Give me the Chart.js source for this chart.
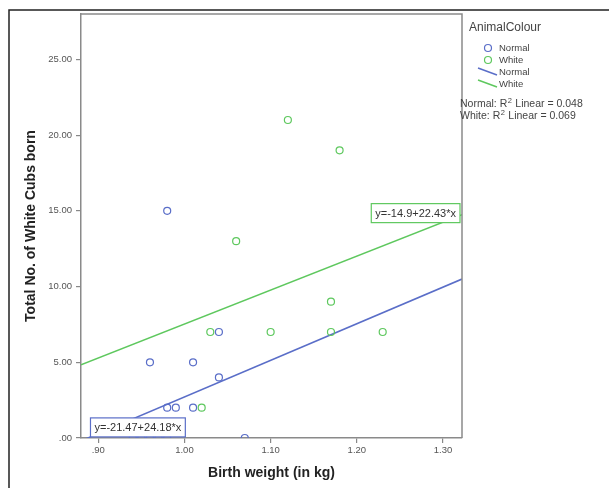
<!DOCTYPE html>
<html>
<head>
<meta charset="utf-8">
<script src="https://cdn.jsdelivr.net/npm/chart.js@4.4.0/dist/chart.umd.min.js"></script>
<style>
  html, body { margin: 0; padding: 0; background: #fff; }
</style>
</head>
<body>
<canvas id="cubsChart" width="609" height="488"></canvas>
<script>
// birth weight (kg) vs white cubs born, per animal colour
const normalWeight = [0.98, 0.96, 1.01, 1.04, 1.04, 0.98, 0.99, 1.01, 1.07, 0.94, 0.95, 0.96, 0.97, 0.98];
const normalCubs   = [15, 5, 5, 7, 4, 2, 2, 2, 0, 0, 0, 0, 0, 0];
const whiteWeight  = [1.12, 1.18, 1.06, 1.17, 1.03, 1.10, 1.17, 1.23, 1.02];
const whiteCubs    = [21, 19, 13, 9, 7, 7, 7, 7, 2];

// fit lines: [intercept, slope]
const normalFit = [-21.47, 24.18];
const whiteFit  = [-14.9, 22.43];
const r2Labels  = ['Normal: R', 'White: R'];
const r2Values  = ['0.048', '0.069'];

const xRange = [0.88, 1.322];
const yRange = [0, 28];
const xTicks = [0.9, 1.0, 1.1, 1.2, 1.3];
const yTicks = [0, 5, 10, 15, 20, 25];

const BLUE = '#5a6ec8';
const GREEN = '#5ec85e';
const FONT = 'Arial, "Liberation Sans", sans-serif';

const toPoints = (xs, ys) => xs.map((x, i) => ({ x: x, y: ys[i] }));
const fitLine = fit => xRange.map(x => ({ x: x, y: fit[0] + fit[1] * x }));
const fmt = v => {
  const s = v.toFixed(2);
  return s.startsWith('0') ? s.slice(1) : s;
};

// frame, box edges, equation boxes and legend
const decorations = {
  id: 'decorations',
  beforeDraw(chart) {
    const c = chart.ctx;
    c.save();
    c.strokeStyle = '#222';
    c.lineWidth = 1.5;
    c.beginPath();
    c.moveTo(9, chart.height);
    c.lineTo(9, 10);
    c.lineTo(chart.width, 10);
    c.stroke();
    c.restore();
  },
  afterDraw(chart) {
    const c = chart.ctx;
    const { left, right, top, bottom } = chart.chartArea;
    const xs = chart.scales.x, ys = chart.scales.y;
    c.save();
    c.strokeStyle = '#8a8a8a';
    c.lineWidth = 1.5;
    c.beginPath();
    c.moveTo(left, top);
    c.lineTo(right, top);
    c.lineTo(right, bottom);
    c.stroke();

    // equation labels
    c.font = '11px ' + FONT;
    c.textBaseline = 'middle';
    const eqBox = (text, color, x0, yc, alignRight) => {
      const w = c.measureText(text).width + 8;
      const bx = alignRight ? x0 - w : x0;
      c.fillStyle = '#fff';
      c.fillRect(bx, yc - 9.5, w, 19);
      c.strokeStyle = color;
      c.lineWidth = 1.2;
      c.strokeRect(bx, yc - 9.5, w, 19);
      c.fillStyle = '#333';
      c.textAlign = 'left';
      c.fillText(text, bx + 4, yc + 0.5);
    };
    eqBox('y=' + whiteFit[0] + '+' + whiteFit[1] + '*x', GREEN, right - 2, ys.getPixelForValue(14.85), true);
    eqBox('y=' + normalFit[0] + '+' + normalFit[1] + '*x', BLUE, xs.getPixelForValue(0.891), ys.getPixelForValue(0.7), false);

    // legend
    const lx = right;
    c.fillStyle = '#444';
    c.textAlign = 'left';
    c.font = '12px ' + FONT;
    c.fillText('AnimalColour', lx + 7, 28);
    c.font = '9.5px ' + FONT;
    c.lineWidth = 1.2;
    [[BLUE, 'Normal', 48], [GREEN, 'White', 60]].forEach(([col, lab, y]) => {
      c.strokeStyle = col;
      c.beginPath();
      c.arc(lx + 26, y, 3.5, 0, Math.PI * 2);
      c.stroke();
      c.fillStyle = '#444';
      c.fillText(lab, lx + 37, y + 0.5);
    });
    c.lineWidth = 1.5;
    [[BLUE, 'Normal', 72], [GREEN, 'White', 84]].forEach(([col, lab, y]) => {
      c.strokeStyle = col;
      c.beginPath();
      c.moveTo(lx + 16, y - 4);
      c.lineTo(lx + 35, y + 3);
      c.stroke();
      c.fillStyle = '#444';
      c.fillText(lab, lx + 37, y);
    });
    [104, 116].forEach((y, i) => {
      let x = lx - 2;
      c.font = '10.5px ' + FONT;
      c.fillText(r2Labels[i], x, y);
      x += c.measureText(r2Labels[i]).width;
      c.font = '7.5px ' + FONT;
      c.fillText('2', x + 0.5, y - 3);
      x += c.measureText('2').width + 1;
      c.font = '10.5px ' + FONT;
      c.fillText(' Linear = ' + r2Values[i], x, y);
    });
    c.restore();
  }
};

const ctx = document.getElementById('cubsChart').getContext('2d');
const cubsChart = new Chart(ctx, {
  type: 'scatter',
  data: {
    datasets: [
      {
        label: 'Normal',
        data: toPoints(normalWeight, normalCubs),
        borderColor: BLUE,
        backgroundColor: 'rgba(0,0,0,0)',
        pointRadius: 3.5,
        pointBorderWidth: 1.2,
        clip: 0
      },
      {
        label: 'White',
        data: toPoints(whiteWeight, whiteCubs),
        borderColor: GREEN,
        backgroundColor: 'rgba(0,0,0,0)',
        pointRadius: 3.5,
        pointBorderWidth: 1.2,
        clip: 0
      },
      {
        type: 'line',
        label: 'Normal fit',
        data: fitLine(normalFit),
        borderColor: BLUE,
        borderWidth: 1.5,
        pointRadius: 0,
        clip: 0
      },
      {
        type: 'line',
        label: 'White fit',
        data: fitLine(whiteFit),
        borderColor: GREEN,
        borderWidth: 1.5,
        pointRadius: 0,
        clip: 0
      }
    ]
  },
  options: {
    responsive: false,
    animation: false,
    layout: { padding: { left: 0, right: 147, top: 14, bottom: 0 } },
    plugins: {
      legend: { display: false },
      tooltip: { enabled: false }
    },
    scales: {
      x: {
        type: 'linear',
        min: xRange[0],
        max: xRange[1],
        afterBuildTicks: s => { s.ticks = xTicks.map(v => ({ value: v })); },
        afterFit: s => { s.height = 50; },
        ticks: {
          callback: v => fmt(v),
          font: { family: FONT, size: 9.5 },
          color: '#555',
          padding: 2,
          maxRotation: 0
        },
        grid: { drawOnChartArea: false, tickLength: 5, color: '#888', lineWidth: 1.2 },
        border: { color: '#8a8a8a', width: 1.5 },
        title: {
          display: true,
          text: 'Birth weight (in kg)',
          font: { family: FONT, size: 14, weight: 'bold' },
          color: '#222',
          padding: { top: 0, bottom: 6 }
        }
      },
      y: {
        type: 'linear',
        min: yRange[0],
        max: yRange[1],
        afterBuildTicks: s => { s.ticks = yTicks.map(v => ({ value: v })); },
        afterFit: s => { s.width = 81; },
        ticks: {
          callback: v => fmt(v),
          font: { family: FONT, size: 9.5 },
          color: '#555',
          padding: 4
        },
        grid: { drawOnChartArea: false, tickLength: 5, color: '#888', lineWidth: 1.2 },
        border: { color: '#8a8a8a', width: 1.5 },
        title: {
          display: true,
          text: 'Total No. of White Cubs born',
          font: { family: FONT, size: 14, weight: 'bold' },
          color: '#222',
          padding: { top: 23, bottom: 0 }
        }
      }
    }
  },
  plugins: [decorations]
});
</script>
</body>
</html>
